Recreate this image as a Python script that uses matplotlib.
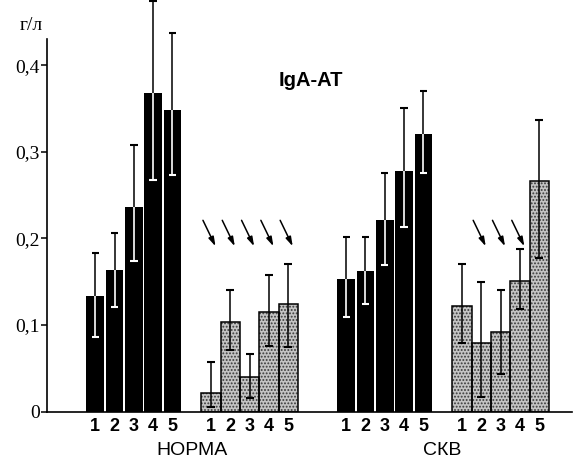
import matplotlib
matplotlib.use('Agg')
import matplotlib.pyplot as plt
import numpy as np

# ---- data ----
cats = ['1', '2', '3', '4', '5']
groups = ['НОРМА', 'СКВ']

norma_black = [0.133, 0.163, 0.236, 0.368, 0.349]
norma_black_hi = [0.050, 0.043, 0.072, 0.106, 0.089]
norma_black_lo = [0.047, 0.042, 0.062, 0.100, 0.076]

norma_gray = [0.021, 0.103, 0.040, 0.115, 0.124]
norma_gray_hi = [0.036, 0.037, 0.027, 0.043, 0.046]
norma_gray_lo = [0.016, 0.032, 0.024, 0.039, 0.049]

skv_black = [0.153, 0.162, 0.221, 0.278, 0.321]
skv_black_hi = [0.049, 0.040, 0.055, 0.073, 0.050]
skv_black_lo = [0.044, 0.038, 0.052, 0.065, 0.045]

skv_gray = [0.122, 0.079, 0.092, 0.151, 0.267]
skv_gray_hi = [0.049, 0.071, 0.049, 0.037, 0.070]
skv_gray_lo = [0.043, 0.062, 0.049, 0.032, 0.090]

norma_arrows = [1, 2, 3, 4, 5]   # bars of gray НОРМА group marked with arrows
skv_arrows = [2, 3, 4]           # bars of gray СКВ group marked with arrows

yticks = [0, 0.1, 0.2, 0.3, 0.4]
ytick_labels = ['0', '0,1', '0,2', '0,3', '0,4']

# ---- layout ----
plt.rcParams['hatch.linewidth'] = 0.9
fig = plt.figure(figsize=(5.74, 4.62), dpi=100)
ax = fig.add_axes([47 / 574, 50.5 / 462, 525 / 574, 372 / 462])
ax.set_xlim(-2, 25.2)
ax.set_ylim(0, 0.43)

starts = [0, 6, 13, 19]
series = [
    (norma_black, norma_black_lo, norma_black_hi, 'black'),
    (norma_gray, norma_gray_lo, norma_gray_hi, 'gray'),
    (skv_black, skv_black_lo, skv_black_hi, 'black'),
    (skv_gray, skv_gray_lo, skv_gray_hi, 'gray'),
]
capw = 0.19
all_x = []
for start, (vals, lo, hi, kind) in zip(starts, series):
    vals = np.array(vals); lo = np.array(lo); hi = np.array(hi)
    x = start + np.arange(len(vals)) + 0.5
    all_x.extend(x)
    if kind == 'black':
        ax.bar(x, vals, width=0.92, color='black', linewidth=0, zorder=2)
        # upper part of the error bar (black, above the bar)
        ax.vlines(x, vals, vals + hi, color='black', lw=1.1, zorder=3, clip_on=False)
        ax.hlines(vals + hi, x - capw, x + capw, color='black', lw=1.5, zorder=3, clip_on=False)
        # lower part (white, inside the bar)
        ax.vlines(x, vals - lo, vals, color='white', lw=1.2, zorder=3)
        ax.hlines(vals - lo, x - capw, x + capw, color='white', lw=1.5, zorder=3)
    else:
        ax.bar(x, vals, width=1, color='#c4c4c4', hatch='.....', edgecolor='#3a3a3a',
               linewidth=0, zorder=2)
        ax.bar(x, vals, width=1, fill=False, edgecolor='black', linewidth=1.1, zorder=2.5)
        ax.errorbar(x, vals, yerr=[lo, hi], fmt='none', ecolor='black',
                    elinewidth=1.1, capsize=2.7, capthick=1.5, clip_on=False, zorder=3)

# arrows
arrow_tail_y, arrow_tip_y = 0.221, 0.191
for start, idxs in [(starts[1], norma_arrows), (starts[3], skv_arrows)]:
    for i in idxs:
        xc = start + i - 0.5
        ax.annotate('', xy=(xc + 0.23, arrow_tip_y), xytext=(xc - 0.42, arrow_tail_y),
                    arrowprops=dict(arrowstyle='-|>,head_length=0.6,head_width=0.18',
                                    color='black', lw=1.1,
                                    mutation_scale=9, shrinkA=0, shrinkB=0))

# spines & ticks
for s in ['top', 'right']:
    ax.spines[s].set_visible(False)
ax.spines['left'].set_bounds(0, 0.43)
ax.spines['left'].set_linewidth(1.2)
ax.spines['bottom'].set_linewidth(1.2)

ax.set_yticks(yticks)
ax.set_yticklabels(ytick_labels, fontfamily='Liberation Serif', fontsize=14)
ax.tick_params(axis='y', direction='out', length=4, width=1.1, pad=1)

ax.set_xticks(all_x)
ax.set_xticklabels(cats * 4, fontfamily='Liberation Sans', fontweight='bold', fontsize=13)
ax.tick_params(axis='x', length=0, pad=5)

# group labels
trans = ax.get_xaxis_transform()
ax.text((starts[0] + starts[1] + 5) / 2, -0.105, groups[0], transform=trans,
        ha='center', va='center', fontfamily='Liberation Sans', fontsize=14)
ax.text((starts[2] + starts[3] + 5) / 2, -0.105, groups[1], transform=trans,
        ha='center', va='center', fontfamily='Liberation Sans', fontsize=14)

# title
ax.text(11.66, 0.383, 'IgA-AT', ha='center', va='center', fontfamily='Liberation Sans',
        fontweight='bold', fontsize=14.5)

# unit label
fig.text(31 / 574, 1 - 25 / 462, 'г/л', ha='center', va='center',
         fontfamily='Liberation Serif', fontsize=14)

fig.savefig('out.png', dpi=100)
